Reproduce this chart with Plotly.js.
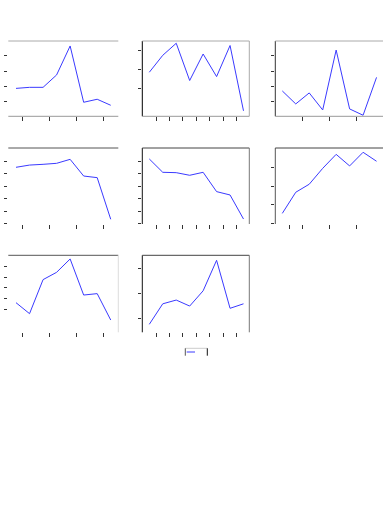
<!DOCTYPE html>
<html>
<head>
<meta charset="utf-8">
<script src="https://cdn.plot.ly/plotly-3.0.1.min.js"></script>
<style>
html,body{margin:0;padding:0;background:#fff;overflow:hidden;}
#chart{width:383px;height:512px;}
</style>
</head>
<body>
<div id="chart"></div>
<script>
// Data
var xIndex = [0, 1, 2, 3, 4, 5, 6, 7];
var series1 = [1.85, 1.92, 1.92, 2.74, 4.66, 0.93, 1.13, 0.73];
var series2 = [1.85, 2.75, 3.39, 1.41, 2.82, 1.62, 3.27, -0.2];
var series3 = [1.68, 0.82, 1.55, 0.42, 4.39, 0.49, 0.07, 2.58];
var series4 = [4.52, 4.70, 4.76, 4.84, 5.16, 3.82, 3.69, 0.35];
var series5 = [5.19, 4.12, 4.09, 3.88, 4.12, 2.57, 2.30, 0.37];
var series6 = [0.55, 1.68, 2.11, 2.96, 3.71, 3.09, 3.82, 3.34];
var series7 = [2.63, 1.61, 4.77, 5.45, 6.69, 3.34, 3.47, 1.02];
var series8 = [0.75, 1.57, 1.72, 1.48, 2.09, 3.31, 1.39, 1.57];
var allSeries = [series1, series2, series3, series4, series5, series6, series7, series8];

// tick positions
var xTicksA = [0.5, 2.5, 4.5, 6.5];
var xTicksB = [0.5, 1.5, 2.5, 3.5, 4.5, 5.5, 6.5];
var xTicksC = [1.5, 3.5, 5.5];
var xTicksD = [0.5, 1.5, 3.5, 5.5];

var W = 383, H = 512;
function fx(p){ return p / W; }
function fy(p){ return 1 - p / H; }

var colsPx = [[8.3, 118.3], [142.3, 249.3], [275.3, 383]];
var rowsPx = [[41, 116.3], [148, 224], [255.3, 332.3]];

var cfg = [
  {r:0,c:0, xr:[-0.57,7.56], yr:[0,4.99],     xt:xTicksA, yt:[1,2,3,4,5]},
  {r:0,c:1, xr:[-0.52,7.43], yr:[-0.49,3.51], xt:xTicksB, yt:[1,2,3]},
  {r:0,c:2, xr:[-0.52,7.48], yr:[0,4.99],     xt:xTicksC, yt:[1,2,3,4,5]},
  {r:1,c:0, xr:[-0.57,7.56], yr:[-0.03,6.07], xt:xTicksA, yt:[0,1,2,3,4,5]},
  {r:1,c:1, xr:[-0.52,7.43], yr:[-0.03,6.07], xt:xTicksB, yt:[0,1,2,3,4,5]},
  {r:1,c:2, xr:[-0.52,7.48], yr:[-0.02,4.05], xt:xTicksD, yt:[0,1,2,3]},
  {r:2,c:0, xr:[-0.57,7.56], yr:[-0.12,7.03], xt:xTicksA, yt:[2,3,4,5,6]},
  {r:2,c:1, xr:[-0.52,7.43], yr:[0.43,3.51],  xt:xTicksB, yt:[1,2,3]}
];

// spines: [side, color]
var spines = [
  [['top','#aaaaaa'],['bottom','#999999']],
  [['left','#000000'],['top','#aaaaaa'],['right','#aaaaaa'],['bottom','#999999']],
  [['left','#333333'],['top','#aaaaaa'],['bottom','#999999']],
  [['top','#555555']],
  [['left','#111111'],['top','#444444'],['right','#777777']],
  [['left','#555555'],['top','#444444']],
  [['top','#555555'],['right','#dddddd']],
  [['left','#111111'],['top','#444444'],['right','#777777']]
];

var data = [];
var layout = {
  width: W, height: H,
  margin: {l:0, r:0, t:0, b:0, pad:0},
  paper_bgcolor: '#ffffff',
  plot_bgcolor: '#ffffff',
  showlegend: false,
  shapes: []
};

cfg.forEach(function(c, i){
  var n = i + 1;
  var xa = 'xaxis' + (n === 1 ? '' : n);
  var ya = 'yaxis' + (n === 1 ? '' : n);
  var xref = 'x' + (n === 1 ? '' : n);
  var yref = 'y' + (n === 1 ? '' : n);
  data.push({
    type: 'scatter', mode: 'lines',
    x: xIndex, y: allSeries[i],
    xaxis: xref, yaxis: yref,
    line: {color: '#3a3aff', width: 1},
    hoverinfo: 'skip'
  });
  var common = {
    showgrid: false, zeroline: false, showline: false,
    showticklabels: false, ticks: 'outside', ticklen: 3.5, tickwidth: 1,
    tickcolor: '#333333', fixedrange: true
  };
  layout[xa] = Object.assign({}, common, {
    domain: [fx(colsPx[c.c][0]), fx(colsPx[c.c][1])],
    range: c.xr, tickmode: 'array', tickvals: c.xt,
    anchor: yref
  });
  layout[ya] = Object.assign({}, common, {
    domain: [fy(rowsPx[c.r][1]), fy(rowsPx[c.r][0])],
    range: c.yr, tickmode: 'array', tickvals: c.yt,
    anchor: xref
  });
  spines[i].forEach(function(s){
    var sh = {type:'line', xref: xref + ' domain', yref: yref + ' domain',
              line:{color:s[1], width:1}, layer:'above'};
    if (s[0] === 'top')    { sh.x0=0; sh.x1=1; sh.y0=1; sh.y1=1; }
    if (s[0] === 'bottom') { sh.x0=0; sh.x1=1; sh.y0=0; sh.y1=0; }
    if (s[0] === 'left')   { sh.x0=0; sh.x1=0; sh.y0=0; sh.y1=1; }
    if (s[0] === 'right')  { sh.x0=1; sh.x1=1; sh.y0=0; sh.y1=1; }
    layout.shapes.push(sh);
  });
});

// legend frame (drawn as decoration, paper coordinates)
var lg = {x0: fx(185.3), x1: fx(207.3), y0: fy(355.7), y1: fy(348.3)};
layout.shapes.push({type:'line', xref:'paper', yref:'paper', x0:lg.x0, x1:lg.x1, y0:lg.y1, y1:lg.y1, line:{color:'#cccccc', width:1}});
layout.shapes.push({type:'line', xref:'paper', yref:'paper', x0:lg.x0, x1:lg.x0, y0:lg.y0, y1:lg.y1, line:{color:'#555555', width:1}});
layout.shapes.push({type:'line', xref:'paper', yref:'paper', x0:lg.x1, x1:lg.x1, y0:lg.y0, y1:lg.y1, line:{color:'#111111', width:1}});
layout.shapes.push({type:'line', xref:'paper', yref:'paper', x0:fx(186.7), x1:fx(195), y0:fy(352), y1:fy(352), line:{color:'#3a3aff', width:1}});

Plotly.newPlot('chart', data, layout, {staticPlot: true, displayModeBar: false});
</script>
</body>
</html>
